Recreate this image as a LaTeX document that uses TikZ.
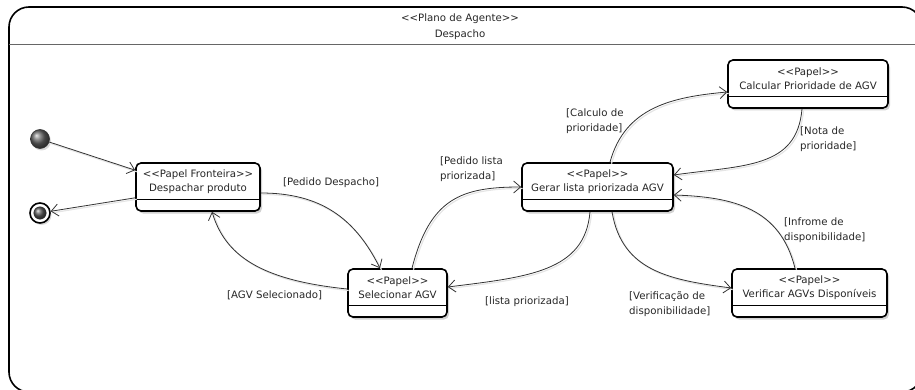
\documentclass[tikz,border=0pt]{standalone}
\usepackage{fontspec}
\setmainfont{DejaVu Sans}
\usetikzlibrary{arrows.meta,shadows}
\newcommand{\stereo}[1]{<{}<#1>{}>}
\begin{document}
\begin{tikzpicture}[x=1pt,y=-1pt,
  font=\fontsize{10.2}{14.5}\selectfont,
  every node/.style={text=black!85},
  role/.style={draw=black, line width=1.6pt, rounded corners=5pt, fill=white,
    minimum height=48pt, inner sep=0pt,
    drop shadow={shadow xshift=2pt,shadow yshift=-2.5pt,fill=black,opacity=0.18},
    path picture={\draw[line width=0.9pt] ([yshift=12pt]path picture bounding box.south west) -- ([yshift=12pt]path picture bounding box.south east);}},
  roletext/.style={align=center, inner sep=0pt},
  lbl/.style={align=left, anchor=west, inner sep=0pt},
  conn/.style={line width=0.8pt, draw=black!80, -{Straight Barb[length=7pt,width=12pt]},
    preaction={draw=black!10, line width=1.2pt, -, transform canvas={xshift=1.5pt,yshift=-1.5pt}}}
]
\useasboundingbox (0,0) rectangle (915,390);
% frame
\draw[line width=1.6pt, rounded corners=20pt] (9,7) rectangle (922,392);
\draw[line width=0.9pt, draw=black!60] (9,44) -- (922,44);
\node[roletext, font=\fontsize{10.2}{16}\selectfont] (title) at (460,27) {\stereo{Plano de Agente}\\Despacho};

% states
\node[role, minimum width=124pt] (desp) at (198,187) {};
\node[roletext] (despt) at ([yshift=5.5pt]desp.center) {\stereo{Papel Fronteira}\\Despachar produto};
\node[role, minimum width=99pt] (sel) at (397.5,293) {};
\node[roletext] (selt) at ([yshift=5.5pt]sel.center) {\stereo{Papel}\\Selecionar AGV};
\node[role, minimum width=151pt] (gerar) at (597.5,187) {};
\node[roletext] (gerart) at ([yshift=5.5pt]gerar.center) {\stereo{Papel}\\Gerar lista priorizada AGV};
\node[role, minimum width=160pt] (calc) at (808,84) {};
\node[roletext] (calct) at ([yshift=5.5pt]calc.center) {\stereo{Papel}\\Calcular Prioridade de AGV};
\node[role, minimum width=155pt] (verif) at (809.5,293) {};
\node[roletext] (verift) at ([yshift=5.5pt]verif.center) {\stereo{Papel}\\Verificar AGVs Disponíveis};

% initial and final
\node[circle, minimum size=19pt, inner sep=0pt, draw=black!80, line width=0.6pt,
  shading=ball, ball color=black!60,
  drop shadow={shadow xshift=1.5pt,shadow yshift=-2pt,fill=black,opacity=0.15}] (init) at (40,139) {};
\node[circle, minimum size=20pt, inner sep=0pt, draw=black, line width=1.6pt, fill=white,
  drop shadow={shadow xshift=1.5pt,shadow yshift=-2pt,fill=black,opacity=0.15}] (fin) at (40,213) {};
\node[circle, minimum size=12.5pt, inner sep=0pt, draw=black!80, line width=0.4pt,
  shading=ball, ball color=black!65] (finin) at (fin.center) {};

% connectors
\draw[conn] (init) -- ([yshift=-8pt]desp.north west);
\draw[conn] ([yshift=14pt]desp.south west) -- (fin);
\draw[conn] ([yshift=-6pt]desp.east) .. controls +(60,0) and +(-25,-50) .. ([xshift=-17.5pt]sel.north);
\draw[conn] ([yshift=4pt]sel.west) .. controls +(-88,-9) and +(13,43) .. ([xshift=14pt]desp.south);
\draw[conn] ([xshift=14.5pt]sel.north) .. controls +(18,-70) and +(-60,0) .. (gerar.west);
\draw[conn] ([xshift=-7.5pt]gerar.south) .. controls +(-5,60) and +(80,-10) .. ([yshift=6pt]sel.east);
\draw[conn] ([xshift=12.5pt]gerar.north) .. controls +(15,-55) and +(-55,5) .. ([yshift=-8pt]calc.west);
\draw[conn] ([xshift=-6pt]calc.south) .. controls +(-5,60) and +(70,-10) .. ([yshift=12pt]gerar.east);
\draw[conn] ([xshift=14.5pt]gerar.south) .. controls +(10,60) and +(-60,-8) .. ([yshift=5pt]verif.west);
\draw[conn] ([xshift=-14.5pt]verif.north) .. controls +(-15,-60) and +(60,2) .. ([yshift=-8pt]gerar.east);

% labels
\node[lbl] (l1) at (283,183) {[Pedido Despacho]};
\node[lbl] (l2) at (227,295) {[AGV Selecionado]};
\node[lbl] (l3) at (440,169) {[Pedido lista\\priorizada]};
\node[lbl] (l4) at (485,302) {[lista priorizada]};
\node[lbl] (l5) at (566,121) {[Calculo de\\prioridade]};
\node[lbl] (l6) at (800,139) {[Nota de\\prioridade]};
\node[lbl] (l7) at (629,304) {[Verificação de\\disponibilidade]};
\node[lbl] (l8) at (784,230) {[Infrome de\\disponibilidade]};
\end{tikzpicture}
\end{document}
